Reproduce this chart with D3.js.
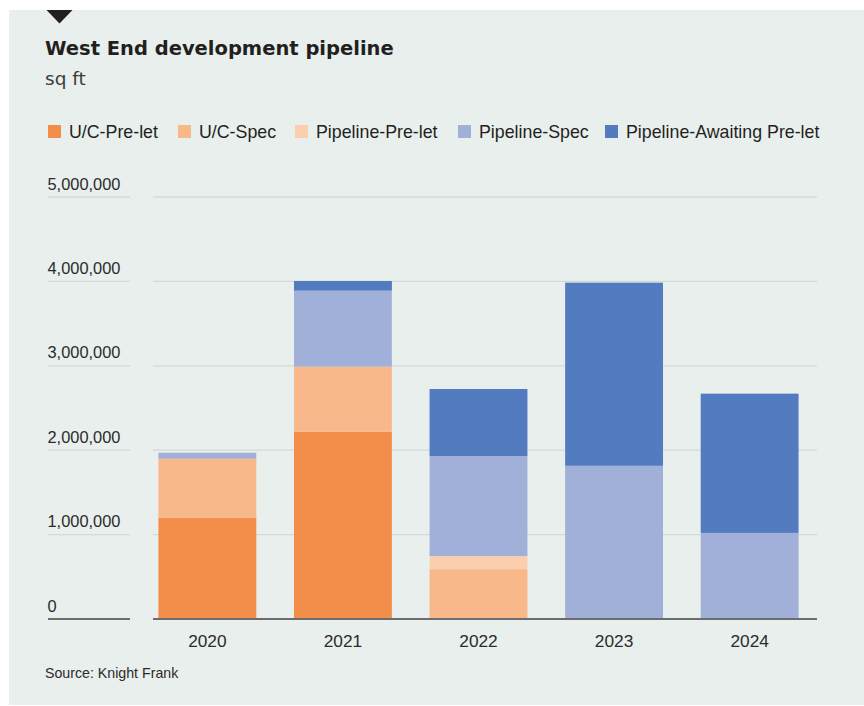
<!DOCTYPE html>
<html>
<head>
<meta charset="utf-8">
<script src="https://cdn.jsdelivr.net/npm/d3@7"></script>
<style>
  html, body { margin: 0; padding: 0; background: #ffffff; }
  svg { display: block; }
</style>
</head>
<body>
<svg id="chart" width="864" height="706"></svg>
<script>
// ---- Data ----
const years = ["2020", "2021", "2022", "2023", "2024"];
const seriesNames = ["U/C-Pre-let", "U/C-Spec", "Pipeline-Pre-let", "Pipeline-Spec", "Pipeline-Awaiting Pre-let"];
const ucPreLet        = [1200000, 2220000,       0,       0,       0];
const ucSpec          = [ 700000,  770000,  590000,       0,       0];
const pipelinePreLet  = [      0,       0,  155000,       0,       0];
const pipelineSpec    = [  70000,  900000, 1185000, 1815000, 1020000];
const pipelineAwaiting= [      0,  115000,  795000, 2170000, 1650000];
const yTicks = [0, 1000000, 2000000, 3000000, 4000000, 5000000];
const colors = ["#f28e4a", "#f8b88a", "#fbcfad", "#a1b0d9", "#527bc0"];

const seriesValues = [ucPreLet, ucSpec, pipelinePreLet, pipelineSpec, pipelineAwaiting];
const table = years.map((y, i) => {
  const row = { year: y };
  seriesNames.forEach((s, k) => row[s] = seriesValues[k][i]);
  return row;
});

const svg = d3.select("#chart");
const FONT_T = "'DejaVu Sans', sans-serif";
const FONT = "'Liberation Sans', Arial, sans-serif";

// Panel background
svg.append("rect").attr("x", 9).attr("y", 10).attr("width", 855).attr("height", 695).attr("fill", "#e9efed");
// Triangle marker
svg.append("path").attr("d", "M46.5,10 L72.5,10 L59.5,23.5 Z").attr("fill", "#231f20");

// Title & subtitle
svg.append("text").attr("x", 45).attr("y", 55).attr("font-family", FONT_T).attr("font-weight", "bold")
  .attr("font-size", 19.5).attr("fill", "#231f20").text("West End development pipeline");
svg.append("text").attr("x", 45).attr("y", 85).attr("font-family", FONT_T)
  .attr("font-size", 18.5).attr("fill", "#3c3c3c").text("sq ft");

// Legend
const legendX = [48, 178, 295, 458, 605];
const legend = svg.append("g");
seriesNames.forEach((s, k) => {
  legend.append("rect").attr("x", legendX[k]).attr("y", 125).attr("width", 13).attr("height", 13).attr("fill", colors[k]);
  legend.append("text").attr("x", legendX[k] + 21).attr("y", 138).attr("font-family", FONT)
    .attr("font-size", 17.8).attr("fill", "#231f20").text(s);
});

// Scales
const y = d3.scaleLinear().domain([0, 5000000]).range([619, 197]);
const x = d3.scaleBand().domain(years).range([153, 804]).paddingInner(0.278).paddingOuter(0.04);

// Gridlines + tick stubs
const grid = svg.append("g");
yTicks.forEach(t => {
  const isZero = t === 0;
  const stroke = isZero ? "#6d6d6d" : "#d4d9d8";
  const sw = isZero ? 2 : 1.3;
  grid.append("line").attr("x1", 48).attr("x2", 130).attr("y1", y(t)).attr("y2", y(t))
    .attr("stroke", stroke).attr("stroke-width", sw);
  if (!isZero) {
    grid.append("line").attr("x1", 153).attr("x2", 817).attr("y1", y(t)).attr("y2", y(t))
      .attr("stroke", stroke).attr("stroke-width", sw);
  }
  grid.append("text").attr("x", 47.5).attr("y", y(t) - 7.5).attr("font-family", FONT)
    .attr("font-size", 16.4).attr("fill", "#2b2b2b").text(d3.format(",")(t));
});

// Stacked bars
const stack = d3.stack().keys(seriesNames);
const stacked = stack(table);
svg.append("g").selectAll("g").data(stacked).join("g")
  .attr("fill", (d, k) => colors[k])
  .selectAll("rect").data(d => d).join("rect")
  .attr("x", d => x(d.data.year))
  .attr("width", x.bandwidth())
  .attr("y", d => y(d[1]))
  .attr("height", d => Math.max(0, y(d[0]) - y(d[1])));

// Baseline on top of bars
svg.append("line").attr("x1", 153).attr("x2", 817).attr("y1", y(0)).attr("y2", y(0))
  .attr("stroke", "#6d6d6d").attr("stroke-width", 2);

// X axis labels
const xAxis = d3.axisBottom(x).tickSize(0).tickPadding(0);
const xg = svg.append("g").attr("transform", `translate(0,${y(0)})`).call(xAxis);
xg.select(".domain").remove();
xg.selectAll("text").attr("font-family", FONT).attr("font-size", 17.3).attr("fill", "#2b2b2b")
  .attr("dy", null).attr("y", 27.5);

// Source
svg.append("text").attr("x", 45).attr("y", 678).attr("font-family", FONT)
  .attr("font-size", 14.2).attr("fill", "#2b2b2b").text("Source: Knight Frank");
</script>
</body>
</html>
